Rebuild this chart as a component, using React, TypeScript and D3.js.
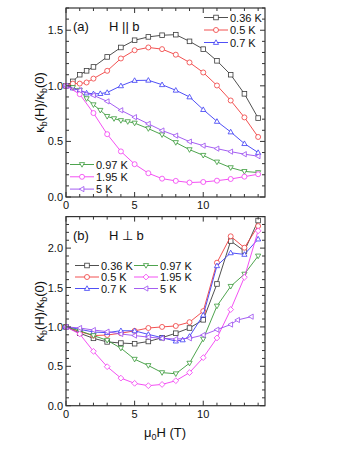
import React from 'react';
import * as d3 from 'd3';

// --- data: panel (a) H || b ---
const aX036 = [0, 0.5, 1, 1.5, 2, 3, 4, 5, 6, 7, 8, 9, 10, 11, 12, 13, 14];
const aY036 = [1.0, 1.04, 1.1, 1.135, 1.17, 1.26, 1.345, 1.41, 1.44, 1.455, 1.46, 1.4, 1.33, 1.225, 1.1, 0.928, 0.71];
const aX05 = [0, 0.5, 1, 1.5, 2, 3, 4, 5, 6, 7, 8, 9, 10, 11, 12, 13, 14];
const aY05 = [1.0, 1.02, 1.02, 1.03, 1.065, 1.135, 1.246, 1.32, 1.345, 1.33, 1.28, 1.21, 1.12, 1.003, 0.868, 0.716, 0.54];
const aX07 = [0, 0.5, 1, 1.5, 2, 2.5, 3, 4, 5, 6, 7, 8, 9, 10, 11, 12, 13, 14];
const aY07 = [1.0, 0.98, 0.96, 0.935, 0.928, 0.93, 0.94, 1.0, 1.048, 1.05, 1.01, 0.96, 0.9, 0.786, 0.68, 0.585, 0.48, 0.4];
const aX097 = [0, 0.5, 1, 1.5, 2, 2.5, 3, 3.5, 4, 4.5, 5, 6, 7, 8, 9, 10, 11, 12, 13, 14];
const aY097 = [1.0, 0.985, 0.96, 0.885, 0.83, 0.78, 0.725, 0.705, 0.688, 0.678, 0.665, 0.615, 0.56, 0.49, 0.426, 0.375, 0.315, 0.264, 0.23, 0.22];
const aX195 = [0, 1, 2, 3, 4, 5, 6, 7, 8, 9, 10, 11, 12, 13, 14];
const aY195 = [1.0, 0.925, 0.755, 0.565, 0.41, 0.295, 0.214, 0.165, 0.145, 0.13, 0.135, 0.147, 0.162, 0.183, 0.205];
const aX5 = [0, 1, 2, 3, 4, 5, 6, 7, 8, 9, 10, 11, 12, 13, 14];
const aY5 = [1.0, 0.96, 0.915, 0.86, 0.78, 0.718, 0.658, 0.598, 0.552, 0.498, 0.462, 0.435, 0.408, 0.385, 0.367];

// --- data: panel (b) H ⊥ b ---
const bX036 = [0, 1, 2, 3, 4, 5, 6, 7, 8, 9, 10, 11, 12, 13, 14];
const bY036 = [1.0, 0.92, 0.855, 0.81, 0.795, 0.787, 0.815, 0.863, 0.92, 0.986, 1.09, 1.545, 2.09, 1.963, 2.35];
const bX05 = [0, 1, 2, 3, 4, 5, 6, 7, 8, 9, 10, 11, 12, 13, 14];
const bY05 = [1.0, 0.94, 0.89, 0.897, 0.92, 0.95, 0.986, 1.0, 1.012, 1.06, 1.2, 1.815, 2.15, 2.005, 2.28];
const bX07 = [0, 1, 2, 3, 4, 5, 6, 7, 8, 8.5, 9, 10, 11, 12, 13, 14];
const bY07 = [1.0, 0.97, 0.935, 0.927, 0.952, 0.95, 0.905, 0.863, 0.82, 0.835, 0.88, 1.15, 1.776, 1.94, 1.92, 2.115];
const bX097 = [0, 1, 2, 3, 4, 5, 6, 7, 8, 9, 10, 11, 12, 13, 14];
const bY097 = [1.0, 0.95, 0.89, 0.83, 0.73, 0.59, 0.51, 0.42, 0.405, 0.54, 0.846, 1.265, 1.515, 1.67, 1.9];
const bX195 = [0, 1, 2, 3, 4, 5, 6, 7, 8, 9, 10, 11, 12, 13, 14];
const bY195 = [1.0, 0.91, 0.69, 0.495, 0.35, 0.284, 0.254, 0.27, 0.317, 0.42, 0.61, 0.86, 1.22, 1.63, 2.22];
const bX5 = [0, 1, 2, 3, 4, 5, 6, 7, 8, 9, 10, 11, 12, 12.5, 13.5];
const bY5 = [1.0, 0.986, 0.96, 0.94, 0.91, 0.89, 0.87, 0.855, 0.846, 0.855, 0.897, 0.965, 1.03, 1.088, 1.13];

const xTicks = [0, 5, 10];
const aYTicks = [0, 0.5, 1.0, 1.5];
const bYTicks = [0, 0.5, 1.0, 1.5, 2.0];

type Shape = 'square' | 'circle' | 'up' | 'down' | 'diamond' | 'left';
interface Series { label: string; xs: number[]; ys: number[]; color: string; shape: Shape; }

const C036 = '#3c3c3c';
const C05 = '#f03c3c';
const C07 = '#3c3cf5';
const C097 = '#3a9a3a';
const C195 = '#f23cf2';
const C5 = '#9a4cf0';

const seriesA: Series[] = [
  { label: '0.36 K', xs: aX036, ys: aY036, color: C036, shape: 'square' },
  { label: '0.5 K', xs: aX05, ys: aY05, color: C05, shape: 'circle' },
  { label: '0.7 K', xs: aX07, ys: aY07, color: C07, shape: 'up' },
  { label: '0.97 K', xs: aX097, ys: aY097, color: C097, shape: 'down' },
  { label: '1.95 K', xs: aX195, ys: aY195, color: C195, shape: 'circle' },
  { label: '5 K', xs: aX5, ys: aY5, color: C5, shape: 'left' },
];

const seriesB: Series[] = [
  { label: '0.36 K', xs: bX036, ys: bY036, color: C036, shape: 'square' },
  { label: '0.5 K', xs: bX05, ys: bY05, color: C05, shape: 'circle' },
  { label: '0.7 K', xs: bX07, ys: bY07, color: C07, shape: 'up' },
  { label: '0.97 K', xs: bX097, ys: bY097, color: C097, shape: 'down' },
  { label: '1.95 K', xs: bX195, ys: bY195, color: C195, shape: 'diamond' },
  { label: '5 K', xs: bX5, ys: bY5, color: C5, shape: 'left' },
];

const FONT = 'Liberation Sans, Arial, sans-serif';

const Marker: React.FC<{ x: number; y: number; shape: Shape; color: string }> = ({ x, y, shape, color }) => {
  const r = 2.3;
  const common = { fill: 'white', stroke: color, strokeWidth: 0.8 };
  switch (shape) {
    case 'square':
      return <rect x={x - r} y={y - r} width={2 * r} height={2 * r} {...common} />;
    case 'circle':
      return <circle cx={x} cy={y} r={r + 0.2} {...common} />;
    case 'up':
      return <path d={`M${x},${y - r - 0.4}L${x + r + 0.3},${y + r - 0.4}L${x - r - 0.3},${y + r - 0.4}Z`} {...common} />;
    case 'down':
      return <path d={`M${x},${y + r + 0.4}L${x + r + 0.3},${y - r + 0.4}L${x - r - 0.3},${y - r + 0.4}Z`} {...common} />;
    case 'diamond':
      return <path d={`M${x},${y - r - 0.6}L${x + r + 0.6},${y}L${x},${y + r + 0.6}L${x - r - 0.6},${y}Z`} {...common} />;
    case 'left':
      return <path d={`M${x - r - 0.4},${y}L${x + r - 0.4},${y - r - 0.3}L${x + r - 0.4},${y + r + 0.3}Z`} {...common} />;
  }
};

interface PanelProps {
  top: number; bottom: number; yMax: number; yTicks: number[];
  series: Series[];
  tag: string; field: string;
  legend: (s: Series, i: number) => { x: number; y: number };
  showXLabel: boolean;
}

const LEFT = 66, RIGHT = 265;

const Panel: React.FC<PanelProps> = ({ top, bottom, yMax, yTicks, series, tag, field, legend }) => {
  const x = d3.scaleLinear().domain([0, 14.5]).range([LEFT, RIGHT]);
  const y = d3.scaleLinear().domain([0, yMax]).range([bottom, top]);
  const line = d3.line<[number, number]>().x(d => x(d[0])).y(d => y(d[1]));
  const xMinor = d3.range(0, 15, 1);
  const yMinor = d3.range(0, Math.round(yMax * 10) + 1).map(v => v / 10);
  const axisColor = '#333';
  return (
    <g>
      {series.map(s => {
        const pts = s.xs.map((v, i) => [v, s.ys[i]] as [number, number]);
        return (
          <g key={s.label}>
            <path d={line(pts) || ''} fill="none" stroke={s.color} strokeWidth={0.9} />
            {pts.map((p, i) => <Marker key={i} x={x(p[0])} y={y(p[1])} shape={s.shape} color={s.color} />)}
          </g>
        );
      })}
      {/* frame */}
      <rect x={LEFT} y={top} width={RIGHT - LEFT} height={bottom - top} fill="none" stroke={axisColor} strokeWidth={1.2} />
      {xMinor.map(v => {
        const len = v % 5 === 0 ? 5 : 3;
        return (
          <g key={'xt' + v}>
            <line x1={x(v)} x2={x(v)} y1={bottom} y2={bottom - len} stroke={axisColor} strokeWidth={1} />
            <line x1={x(v)} x2={x(v)} y1={top} y2={top + len} stroke={axisColor} strokeWidth={1} />
          </g>
        );
      })}
      {yMinor.map(v => {
        const major = Math.abs(v * 2 - Math.round(v * 2)) < 1e-6;
        const len = major ? 5 : 3;
        return (
          <g key={'yt' + v}>
            <line x1={LEFT} x2={LEFT + len} y1={y(v)} y2={y(v)} stroke={axisColor} strokeWidth={1} />
            <line x1={RIGHT} x2={RIGHT - len} y1={y(v)} y2={y(v)} stroke={axisColor} strokeWidth={1} />
          </g>
        );
      })}
      {xTicks.map(v => (
        <text key={'xl' + v} x={x(v)} y={bottom + 12} textAnchor="middle" fontSize={11} fontFamily={FONT} fill="#111">{v}</text>
      ))}
      {yTicks.map(v => (
        <text key={'yl' + v} x={LEFT - 3} y={y(v) + 4} textAnchor="end" fontSize={11} fontFamily={FONT} fill="#111">{v.toFixed(1)}</text>
      ))}
      <text x={73} y={top + 23} fontSize={13} fontFamily={FONT} fill="#111">{tag}</text>
      <text x={109} y={top + 23} fontSize={13} fontFamily={FONT} fill="#111">{field}</text>
      {series.map((s, i) => {
        const p = legend(s, i);
        return (
          <g key={'lg' + s.label}>
            <line x1={p.x} x2={p.x + 24} y1={p.y} y2={p.y} stroke={s.color} strokeWidth={0.9} />
            <Marker x={p.x + 12} y={p.y} shape={s.shape} color={s.color} />
            <text x={p.x + 26} y={p.y + 4} fontSize={11} fontFamily={FONT} fill="#111">{s.label}</text>
          </g>
        );
      })}
      <text transform={`translate(44,${(top + bottom) / 2}) rotate(-90)`} textAnchor="middle" fontSize={13} fontFamily={FONT} fill="#111">
        κ<tspan fontSize={9} dy={3}>b</tspan><tspan dy={-3}>(H)/κ</tspan><tspan fontSize={9} dy={3}>b</tspan><tspan dy={-3}>(0)</tspan>
      </text>
    </g>
  );
};

export default function App() {
  return (
    <svg width={354} height={458} style={{ position: 'absolute', left: 0, top: 0, background: 'white' }}>
      <Panel
        top={8} bottom={197} yMax={1.7} yTicks={aYTicks} series={seriesA}
        tag="(a)" field="H || b" showXLabel={false}
        legend={(s, i) => i < 3 ? { x: 204, y: 17.5 + i * 12.5 } : { x: 70, y: 164.5 + (i - 3) * 12.3 }}
      />
      <Panel
        top={216.6} bottom={405.7} yMax={2.4} yTicks={bYTicks} series={seriesB}
        tag="(b)" field="H ⊥ b" showXLabel={true}
        legend={(s, i) => ({ x: i < 3 ? 75 : 134, y: 265.5 + (i % 3) * 11.5 })}
      />
      <text x={165} y={437} textAnchor="middle" fontSize={13} fontFamily={FONT} fill="#111">
        μ<tspan fontSize={9} dy={3}>0</tspan><tspan dy={-3}>H (T)</tspan>
      </text>
    </svg>
  );
}
